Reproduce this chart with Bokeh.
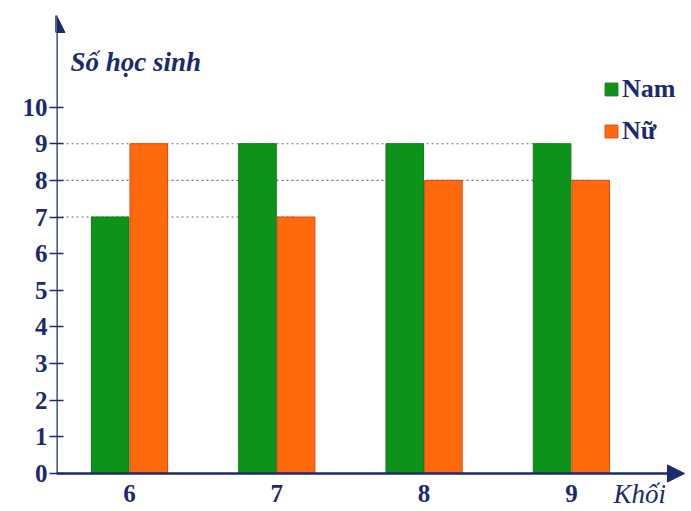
from bokeh.plotting import figure
from bokeh.models import (ColumnDataSource, FixedTicker, Arrow, NormalHead, Label,
                          Legend, LegendItem, Range1d)
from bokeh.core.properties import value
from bokeh.embed import file_html
from bokeh.resources import INLINE

grades = [6, 7, 8, 9]
grade_labels = ["6", "7", "8", "9"]
boys = [7, 9, 9, 9]
girls = [9, 7, 8, 8]
y_ticks = list(range(0, 11))
series_names = ["Nam", "Nữ"]
y_title = "Số học sinh"
x_title = "Khối"

NAVY = "#1b2a6e"
GREEN = "#0e931a"
ORANGE = "#ff6a0c"

bar_w = 0.255
off = 0.131
label_y = -0.546  # data-space row of the category labels under the axis

x0, x1 = 5.5044, 9.768
y0, y1 = -1.037, 12.5

p = figure(width=691, height=511, output_backend="svg", toolbar_location=None,
           x_range=Range1d(x0, x1), y_range=Range1d(y0, y1),
           min_border_left=56, min_border_right=7, min_border_top=15, min_border_bottom=0)
p.outline_line_color = None
p.grid.visible = False
p.background_fill_color = "white"
p.xaxis.visible = False

# dashed reference lines behind bars
levels = [9, 8, 7]
xs0, xs1, ys = [], [], []
for lv in levels:
    pos = [g - off for g, b in zip(grades, boys) if b == lv] + [g + off for g, f in zip(grades, girls) if f == lv]
    xs0.append(x0)
    xs1.append(max(pos))
    ys.append(lv)
p.segment(x0=xs0, y0=ys, x1=xs1, y1=ys, line_color="#3a4a80", line_width=1.2,
          line_dash="2 3", line_alpha=0.8)

src = ColumnDataSource(dict(xb=[g - off for g in grades], xg=[g + off for g in grades],
                            boys=boys, girls=girls))
rb = p.vbar(x="xb", top="boys", width=bar_w, source=src, fill_color=GREEN,
            line_color="#0a7a14", line_width=1)
rg = p.vbar(x="xg", top="girls", width=bar_w, source=src, fill_color=ORANGE,
            line_color="#e8400a", line_width=1)

# category labels below the x axis
p.text(x=grades, y=[label_y] * len(grades), text=grade_labels,
       text_font=value("Liberation Serif"), text_font_style="bold",
       text_font_size="25px", text_color=NAVY, text_align="center",
       text_baseline="middle")

# y axis
p.yaxis.ticker = FixedTicker(ticks=y_ticks)
p.yaxis.axis_line_color = None
p.yaxis.major_tick_in = 7
p.yaxis.major_tick_out = 7
p.yaxis.major_tick_line_color = NAVY
p.yaxis.major_tick_line_width = 1.5
p.yaxis.minor_tick_line_color = None
p.yaxis.major_label_text_font = "Liberation Serif"
p.yaxis.major_label_text_font_style = "bold"
p.yaxis.major_label_text_font_size = "25px"
p.yaxis.major_label_text_color = NAVY
p.yaxis.major_label_standoff = 2

p.add_layout(Arrow(end=NormalHead(size=17, fill_color=NAVY, line_color=NAVY),
                   x_start=x0, y_start=0, x_end=x0, y_end=y1,
                   line_color=NAVY, line_width=2.5))
p.add_layout(Arrow(end=NormalHead(size=17, fill_color=NAVY, line_color=NAVY),
                   x_start=x0, y_start=0, x_end=x1, y_end=0,
                   line_color=NAVY, line_width=2.5))

p.add_layout(Label(x=5.60, y=11.22, text=y_title, text_font="Liberation Serif",
                   text_font_style="bold italic", text_font_size="27px",
                   text_color=NAVY, text_baseline="middle"))
p.add_layout(Label(x=9.286, y=label_y, text=x_title, text_font="Liberation Serif",
                   text_font_style="italic", text_font_size="27px",
                   text_color=NAVY, text_baseline="middle"))

legend = Legend(items=[LegendItem(label=series_names[0], renderers=[rb]),
                       LegendItem(label=series_names[1], renderers=[rg])],
                location=(547, 365), orientation="vertical")
legend.border_line_color = None
legend.background_fill_alpha = 0
legend.padding = 0
legend.margin = 0
legend.spacing = 12
legend.glyph_width = 16
legend.glyph_height = 16
legend.label_height = 16
legend.label_standoff = 3
legend.label_text_font = "Liberation Serif"
legend.label_text_font_style = "bold"
legend.label_text_font_size = "26px"
legend.label_text_color = NAVY
p.add_layout(legend)

open("out.html", "w").write(file_html(p, INLINE))
